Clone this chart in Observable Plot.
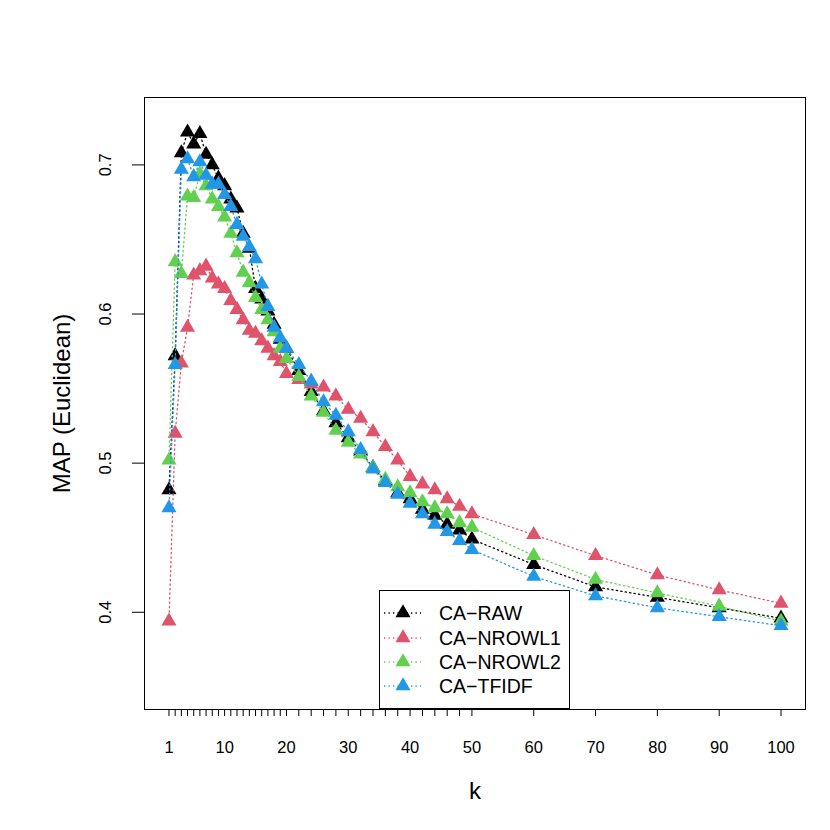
<!DOCTYPE html>
<html><head><meta charset="utf-8">
<script src="https://cdn.jsdelivr.net/npm/d3@7"></script>
<script src="https://cdn.jsdelivr.net/npm/@observablehq/plot@0.6"></script>
<style>
body{margin:0;background:#fff;}
#wrap{position:relative;width:830px;height:830px;font-family:"Liberation Sans",Arial,Helvetica,sans-serif;}
#legend{position:absolute;left:379px;top:590px;width:191px;height:119px;border:1px solid #000;box-sizing:border-box;}
.row{position:absolute;left:0;height:24px;display:flex;align-items:center;font-size:19.5px;color:#000;}
.row svg{display:block;}
.row span{position:absolute;left:59px;white-space:nowrap;}
</style></head><body><div id="wrap"></div>
<script>
// x values (k)
const k = [1,2,3,4,5,6,7,8,9,10,11,12,13,14,15,16,17,18,19,20,
           22,24,26,28,30,32,34,36,38,40,42,44,46,48,50,60,70,80,90,100];
const xTickLabels = [1,10,20,30,40,50,60,70,80,90,100];
const yTicks = [0.4,0.5,0.6,0.7];

const caRaw = [0.482,0.572,0.708,0.722,0.714,0.721,0.707,0.700,0.691,0.686,0.677,0.671,0.654,0.644,0.617,0.610,0.602,0.593,0.583,0.577,
               0.562,0.548,0.535,0.527,0.517,0.508,0.497,0.488,0.480,0.476,0.469,0.465,0.459,0.455,0.449,0.432,0.417,0.410,0.403,0.396];
const caNrowl1 = [0.394,0.520,0.567,0.591,0.626,0.629,0.632,0.624,0.620,0.617,0.609,0.603,0.596,0.589,0.587,0.582,0.577,0.572,0.568,0.560,
               0.556,0.553,0.551,0.545,0.536,0.530,0.521,0.511,0.502,0.491,0.486,0.482,0.476,0.471,0.466,0.452,0.438,0.425,0.415,0.406];
const caNrowl2 = [0.502,0.635,0.627,0.679,0.678,0.694,0.686,0.677,0.672,0.665,0.654,0.641,0.628,0.621,0.611,0.603,0.596,0.588,0.577,0.570,
               0.558,0.545,0.534,0.522,0.514,0.506,0.497,0.489,0.484,0.480,0.474,0.470,0.466,0.460,0.457,0.438,0.422,0.413,0.404,0.394];
const caTfidf = [0.470,0.566,0.697,0.704,0.692,0.702,0.693,0.687,0.687,0.680,0.672,0.660,0.652,0.645,0.637,0.620,0.605,0.591,0.584,0.577,
               0.566,0.555,0.541,0.532,0.521,0.509,0.496,0.487,0.479,0.473,0.466,0.459,0.454,0.448,0.442,0.424,0.411,0.403,0.397,0.391];

const seriesNames = ["CA\u2212RAW","CA\u2212NROWL1","CA\u2212NROWL2","CA\u2212TFIDF"];
const seriesColors = ["#000000","#DF536B","#61D04F","#2297E6"];
const seriesValues = [caRaw, caNrowl1, caNrowl2, caTfidf];

const FONT = '"Liberation Sans", Arial, Helvetica, sans-serif';

const marks = [];
seriesValues.forEach((vals, s) => {
  const data = k.map((kk, i) => ({k: kk, v: vals[i]}));
  marks.push(Plot.line(data, {x: "k", y: "v", stroke: seriesColors[s], strokeWidth: 1.3, strokeDasharray: "1.3,3.2"}));
  marks.push(Plot.dot(data, {x: "k", y: "v", symbol: "triangle", r: 5.6, fill: seriesColors[s], stroke: null}));
});

const chart = Plot.plot({
  width: 830, height: 830,
  marginLeft: 144, marginRight: 25, marginTop: 97, marginBottom: 121,
  style: {fontFamily: FONT, fontSize: "16px", background: "#fff", color: "#000"},
  x: {type: "linear", domain: [-2.96, 103.96]},
  y: {type: "linear", domain: [0.3348, 0.7452]},
  marks: [
    Plot.axisX(k, {tickSize: 7, tickPadding: 25, tickFormat: d => xTickLabels.includes(d) ? String(d) : "", label: null, fontSize: 16.5}),
    Plot.axisY(yTicks, {tickSize: 12, tickFormat: () => "", label: null}),
    Plot.text(yTicks, {y: d => d, text: d => d.toFixed(1), frameAnchor: "left", dx: -39, rotate: -90, textAnchor: "middle", lineAnchor: "middle", fontSize: 16.5}),
    Plot.text(["k"], {frameAnchor: "bottom", dy: 82, text: d => d, fontSize: 24, lineAnchor: "middle"}),
    Plot.text(["MAP (Euclidean)"], {frameAnchor: "left", dx: -82, rotate: -90, text: d => d, fontSize: 24, textAnchor: "middle", lineAnchor: "middle"}),
    ...marks,
    Plot.frame({stroke: "#000", strokeWidth: 1})
  ]
});

const wrap = document.getElementById("wrap");
wrap.appendChild(chart);

// legend (HTML overlay)
const legend = document.createElement("div");
legend.id = "legend";
const rowTops = [10, 35, 59, 83];
seriesNames.forEach((name, i) => {
  const row = document.createElement("div");
  row.className = "row";
  row.style.top = rowTops[i] + "px";
  row.style.width = "188px";
  const c = seriesColors[i];
  row.innerHTML = `<svg width="50" height="24" style="position:absolute;left:0;top:0">
      <line x1="4" x2="41" y1="12" y2="12" stroke="${c}" stroke-width="1.3" stroke-dasharray="1.3,3.2"/>
      <path d="${d3.symbol(d3.symbolTriangle, Math.PI*5.6*5.6)()}" transform="translate(23,12)" fill="${c}"/>
    </svg><span>${name}</span>`;
  legend.appendChild(row);
});
wrap.appendChild(legend);
</script>
</body></html>
